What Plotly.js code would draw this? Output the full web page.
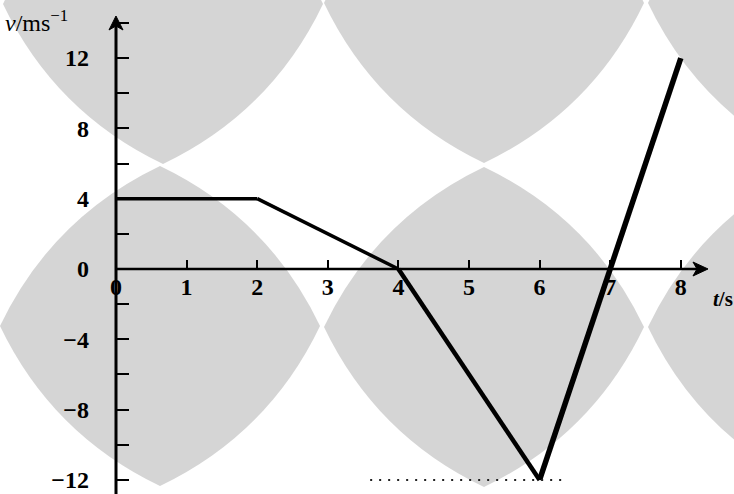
<!DOCTYPE html>
<html>
<head>
<meta charset="utf-8">
<script src="https://cdn.plot.ly/plotly-3.0.1.min.js"></script>
<style>
  html, body { margin: 0; padding: 0; background: #ffffff; }
  #chart { width: 734px; height: 494px; }
</style>
</head>
<body>
<div id="chart"></div>
<script>
// Velocity–time graph of a body moving along a line
const times = [0, 2, 4, 6, 8];          // t / s
const velocity = [4, 4, 0, -12, 12];    // v / m s^-1

const xTickVals = [0, 1, 2, 3, 4, 5, 6, 7, 8];
const xTickText = ['0', '1', '2', '3', '4', '5', '6', '7', '8'];
const yTickVals = [-12, -8, -4, 0, 4, 8, 12];
const yTickText = ['−12', '−8', '−4', '0', '4', '8', '12'];
const yMinorStep = 2;

// figure geometry (pixels)
const W = 734, H = 494;
const ORIGIN_X = 116, ORIGIN_Y = 269;   // where t = 0 and v = 0 sit
const PX_PER_S = 70.6, PX_PER_V = 17.58;
const X_TIP = 708, Y_TIP = 16;          // ends of the arrowed axes

const tAt = p => (p - ORIGIN_X) / PX_PER_S;
const vAt = p => (ORIGIN_Y - p) / PX_PER_V;
const px = p => (p / W).toFixed(4);
const py = p => (1 - p / H).toFixed(4);

// grey tint blocks in the paper background (centres in pixels)
const tintCentres = [[163, 4], [484, 3], [808, 3], [160, 326], [484, 327], [808, 327]];
const TINT_R = 160, TINT_BULGE = 40;

function tintPath(cx, cy) {
  const pts = [[cx, cy - TINT_R], [cx + TINT_R, cy], [cx, cy + TINT_R], [cx - TINT_R, cy]];
  let d = 'M' + px(pts[0][0]) + ',' + py(pts[0][1]);
  for (let i = 0; i < 4; i++) {
    const a = pts[i], b = pts[(i + 1) % 4];
    const mx = (a[0] + b[0]) / 2, my = (a[1] + b[1]) / 2;
    const nx = mx - cx, ny = my - cy, n = Math.hypot(nx, ny);
    const qx = mx + nx / n * TINT_BULGE, qy = my + ny / n * TINT_BULGE;
    d += ' Q' + px(qx) + ',' + py(qy) + ' ' + px(b[0]) + ',' + py(b[1]);
  }
  return d + ' Z';
}

const shapes = tintCentres.map(c => ({
  type: 'path', xref: 'paper', yref: 'paper', layer: 'below',
  path: tintPath(c[0], c[1]),
  fillcolor: '#d5d5d5', line: { width: 0 }
}));

// arrowed axes: shafts and barbed heads
function arrowHead(tip, dir, len, half, notch) {
  // dir: unit vector pointing along the arrow
  const bx = tip[0] - dir[0] * len, by = tip[1] - dir[1] * len;
  const nx = -dir[1], ny = dir[0];
  const p1 = [bx + nx * half, by + ny * half];
  const p2 = [tip[0] - dir[0] * (len - notch), tip[1] - dir[1] * (len - notch)];
  const p3 = [bx - nx * half, by - ny * half];
  return 'M' + px(tip[0]) + ',' + py(tip[1]) +
    ' L' + px(p1[0]) + ',' + py(p1[1]) +
    ' L' + px(p2[0]) + ',' + py(p2[1]) +
    ' L' + px(p3[0]) + ',' + py(p3[1]) + ' Z';
}

shapes.push(
  { type: 'line', xref: 'paper', yref: 'paper', layer: 'above',
    x0: ORIGIN_X / W, x1: (X_TIP - 6) / W, y0: 1 - ORIGIN_Y / H, y1: 1 - ORIGIN_Y / H,
    line: { color: '#000', width: 2.6 } },
  { type: 'path', xref: 'paper', yref: 'paper', layer: 'above',
    path: arrowHead([X_TIP, ORIGIN_Y], [1, 0], 15, 7, 4),
    fillcolor: '#000', line: { color: '#000', width: 1 } },
  { type: 'line', xref: 'paper', yref: 'paper', layer: 'above',
    x0: ORIGIN_X / W, x1: ORIGIN_X / W, y0: 0, y1: 1 - (Y_TIP + 6) / H,
    line: { color: '#000', width: 3 } },
  { type: 'path', xref: 'paper', yref: 'paper', layer: 'above',
    path: arrowHead([ORIGIN_X, Y_TIP], [0, -1], 14, 7, 4),
    fillcolor: '#000', line: { color: '#000', width: 1 } }
);

// dotted level line at the lowest velocity
const vMin = Math.min(...velocity);
shapes.push({
  type: 'line', xref: 'x', yref: 'y', layer: 'above',
  x0: 3.6, x1: 6.4, y0: vMin, y1: vMin,
  line: { color: '#222', width: 2, dash: '2px,7px' }
});

// the graph itself, drawn segment by segment with slightly heavier strokes later on
const segWidths = [3.5, 3.5, 4.5, 5.5];
const traces = [];
for (let i = 0; i < times.length - 1; i++) {
  traces.push({
    type: 'scatter', mode: 'lines',
    x: times.slice(i, i + 2), y: velocity.slice(i, i + 2),
    line: { color: '#000', width: segWidths[i] },
    hoverinfo: 'skip', showlegend: false
  });
}

const SERIF = 'Liberation Serif, Times New Roman, serif';
const tickFont = { family: SERIF, size: 24, color: '#000', weight: 'bold' };

const layout = {
  width: W, height: H,
  margin: { l: 0, r: 0, t: 0, b: 0 },
  paper_bgcolor: '#ffffff', plot_bgcolor: 'rgba(0,0,0,0)',
  showlegend: false,
  xaxis: {
    domain: [0, 1], range: [tAt(0), tAt(W)],
    anchor: 'free', position: 1 - ORIGIN_Y / H, side: 'bottom',
    showgrid: false, zeroline: false, showline: false,
    tickmode: 'array', tickvals: xTickVals, ticktext: xTickText,
    ticks: 'inside', ticklen: 9, tickwidth: 2, tickcolor: '#000',
    ticklabelstandoff: 1,
    tickfont: tickFont, fixedrange: true
  },
  yaxis: {
    domain: [0, 1], range: [vAt(H), vAt(0)],
    anchor: 'free', position: ORIGIN_X / W, side: 'left',
    showgrid: false, zeroline: false, showline: false,
    tickmode: 'array', tickvals: yTickVals, ticktext: yTickText,
    ticks: 'inside', ticklen: 12, tickwidth: 2, tickcolor: '#000',
    minor: { dtick: yMinorStep, tick0: 0, ticks: 'inside', ticklen: 12, tickwidth: 2, tickcolor: '#000', showgrid: false },
    ticklabelstandoff: 27,
    tickfont: tickFont, fixedrange: true
  },
  shapes: shapes,
  annotations: [
    {
      xref: 'paper', yref: 'paper', x: 3 / W, y: 1 - 4 / H, xanchor: 'left', yanchor: 'top',
      text: '<i>v</i>/ms<sup>−1</sup>', showarrow: false,
      font: { family: SERIF, size: 24, color: '#000' }
    },
    {
      xref: 'paper', yref: 'paper', x: 711 / W, y: 1 - 299 / H, xanchor: 'left', yanchor: 'middle',
      text: '<i>t</i>/s', showarrow: false,
      font: { family: SERIF, size: 21, color: '#000', weight: 'bold' }
    }
  ]
};

Plotly.newPlot('chart', traces, layout, { displayModeBar: false, staticPlot: true });
</script>
</body>
</html>
